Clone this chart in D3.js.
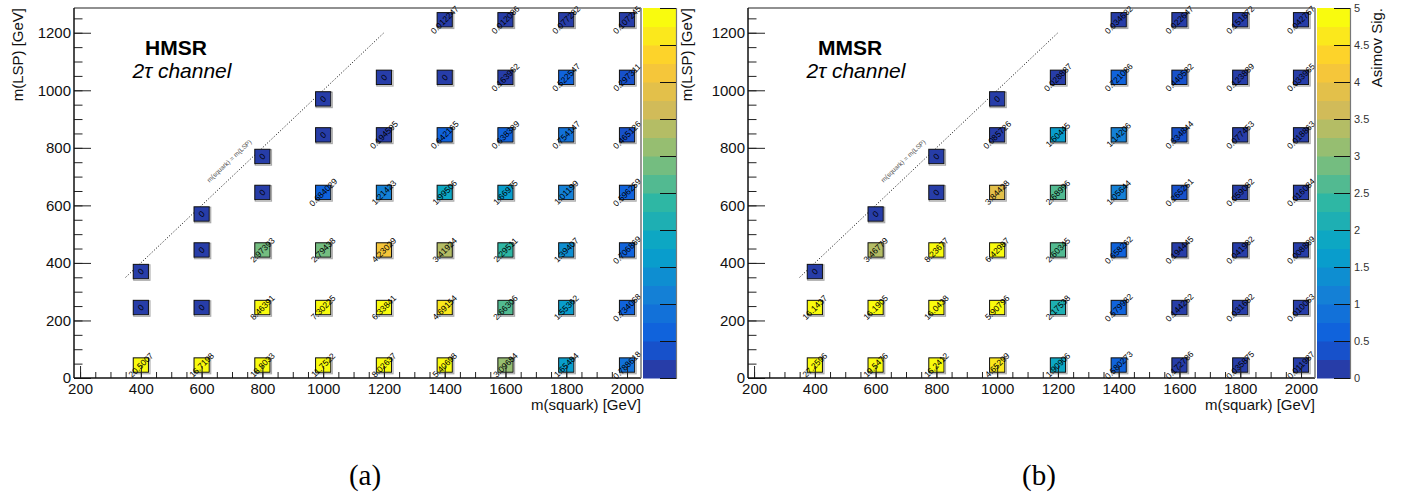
<!DOCTYPE html>
<html>
<head>
<meta charset="utf-8">
<script src="https://cdn.jsdelivr.net/npm/d3@7"></script>
<style>
  body { margin: 0; background: #fff; }
  svg text { font-family: "Liberation Sans", Arial, Helvetica, sans-serif; }
  svg text.caption { font-family: "Liberation Serif", "DejaVu Serif", serif; }
</style>
</head>
<body>
<svg id="fig" width="1407" height="498"></svg>
<script>
// ---- Signal grid: squark mass, LSP mass and Asimov significance per point ----
const hmsrSquark = [400, 600, 800, 1000, 1200, 1400, 1600, 1800, 2000,
                    400, 600, 800, 1000, 1200, 1400, 1600, 1800, 2000,
                    400,
                    600, 800, 1000, 1200, 1400, 1600, 1800, 2000,
                    600,
                    800, 1000, 1200, 1400, 1600, 1800, 2000,
                    800,
                    1000, 1200, 1400, 1600, 1800, 2000,
                    1000,
                    1200, 1400, 1600, 1800, 2000,
                    1400, 1600, 1800, 2000];
const hmsrLSP = [45, 45, 45, 45, 45, 45, 45, 45, 45,
                 245, 245, 245, 245, 245, 245, 245, 245, 245,
                 370,
                 445, 445, 445, 445, 445, 445, 445, 445,
                 570,
                 645, 645, 645, 645, 645, 645, 645,
                 770,
                 845, 845, 845, 845, 845, 845,
                 970,
                 1045, 1045, 1045, 1045, 1045,
                 1245, 1245, 1245, 1245];
const hmsrSig = [20.5007, 16.7198, 18.8033, 11.7522, 8.02637, 5.40698, 3.09684, 1.65484, 0.788618,
                 0, 0, 8.46391, 7.30225, 6.33841, 4.69154, 2.66306, 1.55362, 0.734068,
                 0,
                 0, 2.97393, 2.79438, 4.23029, 3.41924, 2.29511, 1.39407, 0.706869,
                 0,
                 0, 0.684029, 1.21423, 1.99506, 1.66975, 1.01199, 0.596259,
                 0,
                 0, 0.194595, 0.642165, 0.638389, 0.754147, 0.465126,
                 0,
                 0, 0, 0.163962, 0.522547, 0.297311,
                 0.012247, 0.012086, 0.077282, 0.107245];

const mmsrSquark = hmsrSquark.slice();
const mmsrLSP = hmsrLSP.slice();
const mmsrSig = [27.2596, 19.5476, 16.2412, 4.65299, 1.90906, 0.580273, 0.172786, 0.035875, 0.011987,
                 16.1437, 16.1905, 16.0438, 5.90796, 2.17538, 0.579982, 0.144262, 0.031682, 0.010063,
                 0,
                 3.46779, 8.23677, 6.42987, 2.60345, 0.658262, 0.194445, 0.041982, 0.008889,
                 0,
                 0, 3.84428, 2.68996, 1.05644, 0.265261, 0.059082, 0.016084,
                 0,
                 0.085726, 1.60445, 1.14206, 0.334844, 0.077453, 0.018863,
                 0,
                 0.028887, 0.721086, 0.440582, 0.123889, 0.033965,
                 0.034632, 0.022647, 0.151872, 0.042767];

// ---- Axis ticks ----
const xTicks = [200, 400, 600, 800, 1000, 1200, 1400, 1600, 1800, 2000];
const yTicks = [0, 200, 400, 600, 800, 1000, 1200];
const zTicks = [0, 0.5, 1, 1.5, 2, 2.5, 3, 3.5, 4, 4.5, 5];
const zTickLabels = ["0", "0.5", "1", "1.5", "2", "2.5", "3", "3.5", "4", "4.5", "5"];

// ---- ROOT kBird palette, 20 contour bands between 0 and 5 ----
const birdStops = [0.0, 0.125, 0.25, 0.375, 0.5, 0.625, 0.75, 0.875, 1.0];
const birdR = [0.2082, 0.0592, 0.0780, 0.0232, 0.1802, 0.5301, 0.8186, 0.9956, 0.9764];
const birdG = [0.1664, 0.3599, 0.5041, 0.6419, 0.7178, 0.7492, 0.7328, 0.7862, 0.9832];
const birdB = [0.5293, 0.8684, 0.8385, 0.7914, 0.6425, 0.4662, 0.3499, 0.1968, 0.0539];
const bird = d3.scaleLinear()
  .domain(birdStops)
  .range(birdStops.map((_, i) => d3.rgb(birdR[i] * 255, birdG[i] * 255, birdB[i] * 255)))
  .interpolate(d3.interpolateRgb);
const nBands = 20, zMin = 0, zMax = 5;
const bandColors = d3.range(nBands).map(i => bird(Math.floor((i + 0.99) * 255 / nBands) / 254));
const band = d3.scaleQuantize().domain([zMin, zMax]).range(d3.range(nBands));
const colorOf = v => bandColors[band(v)];
const fmtG = v => String(+v.toPrecision(6));

const svg = d3.select("#fig");
svg.append("rect").attr("width", 1407).attr("height", 498).attr("fill", "#fff");

const panels = [
  { dx: 0, title: "HMSR", squark: hmsrSquark, lsp: hmsrLSP, sig: hmsrSig,
    yTitle: "m(LSP) [GeV]", zTitle: "m(LSP) [GeV]", zLabels: false, zTitleX: 692, caption: "(a)" },
  { dx: 674, title: "MMSR", squark: mmsrSquark, lsp: mmsrLSP, sig: mmsrSig,
    yTitle: null, zTitle: "Asimov Sig.", zLabels: true, zTitleX: 708, caption: "(b)" }
];

const frame = { left: 74, right: 641, top: 8, bottom: 378 };
const x = d3.scaleLinear().domain([180, 2046]).range([frame.left, frame.right]);
const y = d3.scaleLinear().domain([0, 1286]).range([frame.bottom, frame.top]);
const z = d3.scaleLinear().domain([zMin, zMax]).range([frame.bottom, frame.top]);
const bar = { left: 643, right: 676 };
const cellHalf = 25; // half width of each grid cell in GeV

panels.forEach(p => {
  const g = svg.append("g").attr("transform", `translate(${p.dx},0)`);
  const pts = p.squark.map((s, i) => ({ s, l: p.lsp[i], v: p.sig[i] }));

  // diagonal m(squark) = m(LSP)
  g.append("line")
    .attr("x1", x(350)).attr("y1", y(350)).attr("x2", x(1200)).attr("y2", y(1200))
    .attr("stroke", "#000").attr("stroke-width", 1).attr("stroke-dasharray", "1,2");
  const ang = Math.atan2(y(1200) - y(350), x(1200) - x(350)) * 180 / Math.PI;
  g.append("text")
    .attr("transform", `translate(${x(690)},${y(755)}) rotate(${ang})`)
    .attr("text-anchor", "middle").attr("dominant-baseline", "central")
    .attr("font-size", 6.5).attr("fill", "#555")
    .text("m(squark) = m(LSP)");

  // grid cells
  const cells = g.append("g");
  cells.selectAll("rect.shadow").data(pts).join("rect").attr("class", "shadow")
    .attr("x", d => x(d.s - cellHalf) + 0.5).attr("y", d => y(d.l + cellHalf) + 0.5)
    .attr("width", d => x(d.s + cellHalf) - x(d.s - cellHalf) + 1)
    .attr("height", d => y(d.l - cellHalf) - y(d.l + cellHalf) + 1)
    .attr("fill", "none").attr("stroke", "#aaa").attr("stroke-width", 1.2);
  cells.selectAll("rect.cell").data(pts).join("rect").attr("class", "cell")
    .attr("x", d => x(d.s - cellHalf)).attr("y", d => y(d.l + cellHalf))
    .attr("width", d => x(d.s + cellHalf) - x(d.s - cellHalf))
    .attr("height", d => y(d.l - cellHalf) - y(d.l + cellHalf))
    .attr("fill", d => colorOf(d.v)).attr("stroke", "#111").attr("stroke-width", 1);
  cells.selectAll("text").data(pts).join("text")
    .attr("transform", d => `translate(${x(d.s)},${y(d.l)}) rotate(-45)`)
    .attr("text-anchor", "middle").attr("dominant-baseline", "central")
    .attr("font-size", 8.5).attr("fill", "#000")
    .text(d => fmtG(d.v));

  // x axis: major + minor ticks pointing inward
  const xMinor = d3.range(200, 2046, 50);
  g.append("g").attr("transform", `translate(0,${frame.bottom})`)
    .call(d3.axisBottom(x).tickValues(xMinor).tickSize(-6).tickFormat(""))
    .call(a => a.select(".domain").remove())
    .call(a => a.selectAll("line").attr("stroke", "#222"));
  g.append("g").attr("transform", `translate(0,${frame.bottom})`)
    .call(d3.axisBottom(x).tickValues(xTicks).tickSize(-12).tickPadding(5).tickFormat(d3.format("d")))
    .call(a => a.select(".domain").remove())
    .call(a => a.selectAll("line").attr("stroke", "#222"))
    .call(a => a.selectAll("text").attr("font-size", 15).attr("fill", "#111"));

  // y axis
  const yMinor = d3.range(0, 1286, 50);
  g.append("g").attr("transform", `translate(${frame.left},0)`)
    .call(d3.axisLeft(y).tickValues(yMinor).tickSize(-8.5).tickFormat(""))
    .call(a => a.select(".domain").remove())
    .call(a => a.selectAll("line").attr("stroke", "#222"));
  g.append("g").attr("transform", `translate(${frame.left},0)`)
    .call(d3.axisLeft(y).tickValues(yTicks).tickSize(-17).tickPadding(3).tickFormat(d3.format("d")))
    .call(a => a.select(".domain").remove())
    .call(a => a.selectAll("line").attr("stroke", "#222"))
    .call(a => a.selectAll("text").attr("font-size", 15).attr("fill", "#111"));

  // frame
  g.append("line").attr("x1", frame.left).attr("x2", frame.right).attr("y1", frame.top).attr("y2", frame.top)
    .attr("stroke", "#222").attr("stroke-width", 1.2);
  g.append("line").attr("x1", frame.left).attr("x2", frame.right).attr("y1", frame.bottom).attr("y2", frame.bottom)
    .attr("stroke", "#111").attr("stroke-width", 1.5);
  g.append("line").attr("x1", frame.left).attr("x2", frame.left).attr("y1", frame.top).attr("y2", frame.bottom)
    .attr("stroke", "#111").attr("stroke-width", 1.5);
  g.append("line").attr("x1", frame.right).attr("x2", frame.right).attr("y1", frame.top).attr("y2", frame.bottom)
    .attr("stroke", "#777").attr("stroke-width", 1.5);

  // axis titles
  g.append("text").attr("x", frame.right).attr("y", 410).attr("text-anchor", "end")
    .attr("font-size", 15).attr("fill", "#111").text("m(squark) [GeV]");
  if (p.yTitle) {
    g.append("text").attr("transform", `translate(23,${frame.top}) rotate(-90)`)
      .attr("text-anchor", "end").attr("font-size", 15).attr("fill", "#111").text(p.yTitle);
  }

  // channel labels
  g.append("text").attr("x", 176).attr("y", 55).attr("text-anchor", "middle")
    .attr("font-size", 21).attr("font-weight", "bold").attr("fill", "#000").text(p.title);
  g.append("text").attr("x", 182).attr("y", 78).attr("text-anchor", "middle")
    .attr("font-size", 21).attr("font-style", "italic").attr("fill", "#000").text("2τ channel");

  // colour bar
  const bands = d3.range(nBands);
  const step = (zMax - zMin) / nBands;
  g.append("g").selectAll("rect").data(bands).join("rect")
    .attr("x", bar.left).attr("width", bar.right - bar.left)
    .attr("y", i => z(zMin + (i + 1) * step)).attr("height", i => z(zMin + i * step) - z(zMin + (i + 1) * step) + 0.5)
    .attr("fill", i => bandColors[i]);
  g.append("g").attr("transform", `translate(${bar.right},0)`)
    .call(d3.axisRight(z).tickValues(zTicks).tickSize(-16).tickPadding(4)
      .tickFormat((d, i) => p.zLabels ? zTickLabels[i] : ""))
    .call(a => a.select(".domain").attr("stroke", "#777").attr("stroke-width", 1.2))
    .call(a => a.selectAll("line").attr("stroke", "#111"))
    .call(a => a.selectAll("text").attr("font-size", 11).attr("fill", "#333"));
  g.append("text").attr("transform", `translate(${p.zTitleX},${frame.top}) rotate(-90)`)
    .attr("text-anchor", "end").attr("font-size", 15).attr("fill", "#111").text(p.zTitle);

  // sub-figure caption
  g.append("text").attr("class", "caption").attr("x", 365).attr("y", 485).attr("text-anchor", "middle")
    .attr("font-size", 29).attr("fill", "#000").text(p.caption);
});
</script>
</body>
</html>
